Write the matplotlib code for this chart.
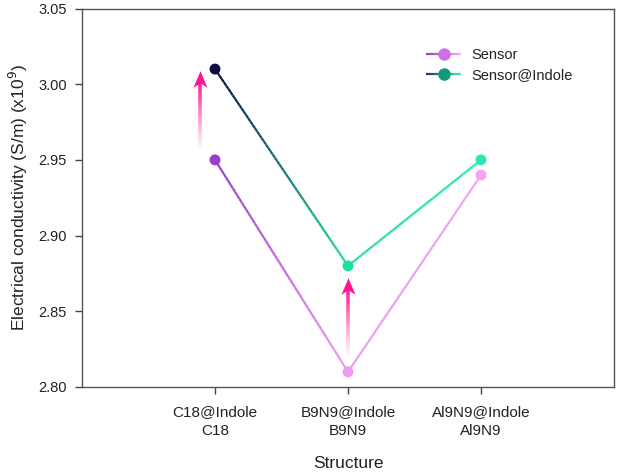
import numpy as np
import matplotlib
matplotlib.use("Agg")
import matplotlib.pyplot as plt
from matplotlib.collections import LineCollection
from matplotlib.legend_handler import HandlerBase
from matplotlib.lines import Line2D
from matplotlib.colors import to_rgba
from matplotlib.path import Path

plt.rcParams['font.family'] = ['Liberation Sans', 'DejaVu Sans']

categories = ["C18@Indole\nC18", "B9N9@Indole\nB9N9", "Al9N9@Indole\nAl9N9"]
sensor = [2.95, 2.81, 2.94]
sensor_indole = [3.01, 2.88, 2.95]
sensor_colors = ["#9a3ccc", "#f09af0", "#f2a4f2"]
indole_colors = ["#0c0c45", "#1ee0a0", "#2de8b2"]
arrow_x = [0.887, 2.0]
arrow_from = [2.955, 2.819]
arrow_to = [3.0076, 2.871]
arrow_color = "#ff1493"

fig = plt.figure(figsize=(6.18, 4.74), dpi=100)
ax = fig.add_axes([82/618, 1-387/474, (614-82)/618, (387-8.5)/474])

xs = np.arange(1, len(categories)+1)


def grad_segments(x, y, cols, n=60):
    segs, colors = [], []
    for i in range(len(x)-1):
        c0 = np.array(to_rgba(cols[i])); c1 = np.array(to_rgba(cols[i+1]))
        t = np.linspace(0, 1, n+1)
        px = x[i] + (x[i+1]-x[i])*t
        py = y[i] + (y[i+1]-y[i])*t
        for k in range(n):
            segs.append([(px[k], py[k]), (px[k+1], py[k+1])])
            colors.append(c0 + (c1-c0)*(k+0.5)/n)
    return segs, colors


for vals, cols in [(sensor, sensor_colors), (sensor_indole, indole_colors)]:
    segs, colors = grad_segments(xs, vals, cols)
    ax.add_collection(LineCollection(segs, colors=colors, linewidths=1.6, capstyle='butt', zorder=2))
    ax.scatter(xs, vals, s=62, c=cols, zorder=3, edgecolors='none')

# stealth arrow head marker
head_path = Path([(0, 0.5), (-0.42, -0.5), (0, -0.22), (0.42, -0.5), (0, 0.5)],
                 [Path.MOVETO, Path.LINETO, Path.LINETO, Path.LINETO, Path.CLOSEPOLY])
head_len = 0.0085  # data units (~13 px)

for x0, y0, y1 in zip(arrow_x, arrow_from, arrow_to):
    n = 60
    t = np.linspace(0, 1, n+1)
    ys = y0 + (y1 - head_len*0.6 - y0) * t
    segs = [[(x0, ys[k]), (x0, ys[k+1])] for k in range(n)]
    base = np.array(to_rgba(arrow_color))
    cols = []
    for k in range(n):
        c = base.copy(); c[3] = ((k+0.5)/n) ** 1.1; cols.append(c)
    ax.add_collection(LineCollection(segs, colors=cols, linewidths=2.6, capstyle='butt', zorder=2))
    ax.plot([x0], [y1 - head_len/2], marker=head_path, markersize=12, color=arrow_color,
            markeredgewidth=0, linestyle='none', zorder=3)

ax.set_xlim(0, 4)
ax.set_ylim(2.80, 3.05)
ax.set_xticks(xs)
ax.set_xticklabels(categories, fontsize=11, color='#222222', linespacing=1.45)
ax.set_yticks([2.80, 2.85, 2.90, 2.95, 3.00, 3.05])
ax.set_yticklabels(["2.80", "2.85", "2.90", "2.95", "3.00", "3.05"], fontsize=10.5, color='#222222')
ax.tick_params(axis='both', direction='out', length=5, width=1, color='#444444')
ax.tick_params(axis='x', pad=8)
ax.tick_params(axis='y', pad=6)
for sp in ax.spines.values():
    sp.set_color('#555555'); sp.set_linewidth(1.0)
ax.set_xlabel("Structure", fontsize=12.5, color='#222222', labelpad=13)
ax.set_ylabel("Electrical conductivity (S/m) (x10$^9$)", fontsize=12.5, color='#222222', labelpad=6)


class HandlerGrad(HandlerBase):
    def __init__(self, c0, c1, mc):
        super().__init__(); self.c0, self.c1, self.mc = c0, c1, mc

    def create_artists(self, legend, orig_handle, xdescent, ydescent, width, height, fontsize, trans):
        y = height/2 - ydescent
        n = 30
        px = np.linspace(-xdescent, width-xdescent, n+1)
        c0 = np.array(to_rgba(self.c0)); c1 = np.array(to_rgba(self.c1))
        segs = [[(px[k], y), (px[k+1], y)] for k in range(n)]
        cols = [c0 + (c1-c0)*(k+0.5)/n for k in range(n)]
        lc = LineCollection(segs, colors=cols, linewidths=1.6, transform=trans)
        mk = Line2D([width/2 - xdescent], [y], marker='o', markersize=8, color=self.mc,
                    linestyle='none', transform=trans)
        return [lc, mk]


h1 = Line2D([], []); h2 = Line2D([], [])
leg = ax.legend([h1, h2], ["Sensor", "Sensor@Indole"],
                handler_map={h1: HandlerGrad("#9a3ccc", "#f3b0f3", "#d070e6"),
                             h2: HandlerGrad("#2a2a70", "#3ff0b8", "#0e9a78")},
                loc='upper left', bbox_to_anchor=((426-82)/532, 1-(48-8.5)/378.5),
                frameon=False, fontsize=10.5, handlelength=2.4, handletextpad=0.7,
                labelspacing=0.4, borderaxespad=0, borderpad=0)
for t in leg.get_texts():
    t.set_color('#222222')

fig.savefig("out.png", dpi=100)
